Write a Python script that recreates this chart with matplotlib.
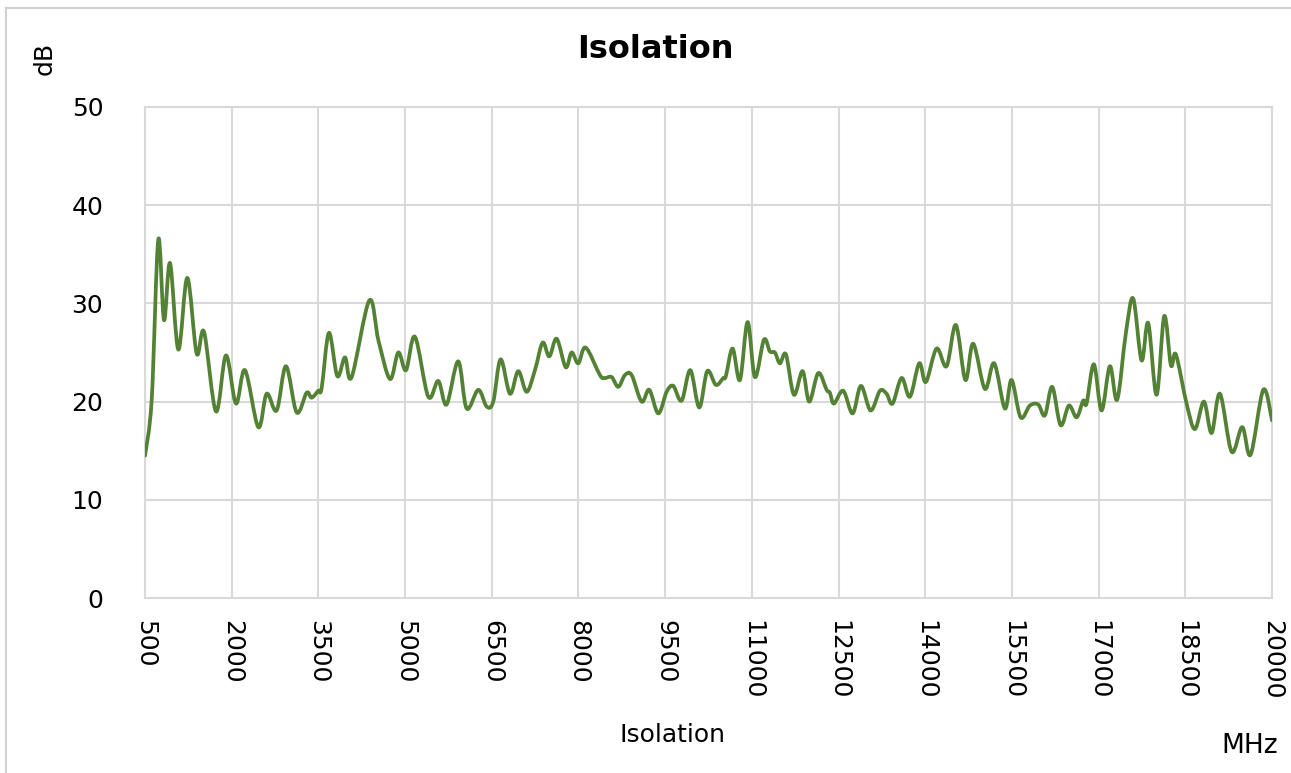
"""Isolation vs frequency, smoothed line like the Excel original."""

import matplotlib

matplotlib.use("Agg")
import matplotlib.pyplot as plt
import numpy as np
from matplotlib.patches import PathPatch
from matplotlib.path import Path

# Values (MHz, dB).
freq_mhz = [
    500, 616, 730, 829, 933, 1077, 1232, 1394, 1521, 1728, 1901, 2074, 2230,
    2460, 2605, 2778, 2939, 3124, 3297, 3384, 3498, 3557, 3683, 3827, 3960,
    4076, 4381, 4540, 4739, 4883, 5016, 5171, 5401, 5574, 5718, 5919, 6065,
    6266, 6411, 6526, 6653, 6815, 6958, 7104, 7247, 7380, 7495, 7623, 7779,
    7882, 7997, 8125, 8372, 8458, 8574, 8689, 8804, 8920, 9093, 9225, 9381,
    9526, 9640, 9785, 9935, 10090, 10228, 10378, 10505, 10551, 10667, 10794,
    10927, 11053, 11209, 11313, 11399, 11486, 11590, 11728, 11878, 11993,
    12149, 12294, 12351, 12420, 12581, 12744, 12887, 13055, 13216, 13331,
    13435, 13591, 13735, 13896, 14011, 14196, 14369, 14530, 14695, 14830,
    15032, 15193, 15378, 15494, 15650, 15811, 15955, 16071, 16197, 16342,
    16486, 16619, 16733, 16792, 16918, 17051, 17195, 17321, 17472, 17598,
    17743, 17858, 18003, 18135, 18251, 18337, 18522, 18666, 18822, 18955,
    19099, 19301, 19485, 19630, 19849, 20000,
]
isolation_db = [
    14.5, 20.2, 36.5, 28.3, 34.1, 25.3, 32.6, 24.9, 27.1, 19.0, 24.7, 19.8, 23.2,
    17.4, 20.8, 19.1, 23.6, 18.9, 20.9, 20.4, 21.1, 21.4, 27.0, 22.6, 24.5,
    22.5, 30.3, 26.2, 22.3, 25.0, 23.2, 26.6, 20.5, 22.1, 19.7, 24.1, 19.3,
    21.2, 19.5, 20.0, 24.3, 20.8, 23.1, 21.0, 23.2, 26.0, 24.6, 26.4, 23.5,
    25.0, 23.9, 25.5, 22.7, 22.4, 22.5, 21.5, 22.7, 22.7, 20.0, 21.2, 18.8,
    21.0, 21.6, 20.1, 23.2, 19.4, 23.1, 21.7, 22.4, 22.6, 25.4, 22.2,
    28.1, 22.5, 26.3, 25.1, 25.0, 23.9, 24.8, 20.7, 23.1, 20.0,
    22.9, 21.2, 20.9, 19.8, 21.1, 18.8, 21.6, 19.1, 21.1, 20.8,
    19.8, 22.4, 20.5, 23.9, 22.0, 25.4, 23.6, 27.8, 22.2, 25.9,
    21.3, 23.9, 19.3, 22.2, 18.4, 19.6, 19.7, 18.6, 21.5, 17.6,
    19.6, 18.4, 20.1, 19.8, 23.8, 19.1, 23.6, 20.2, 27.0, 30.5,
    24.2, 28.0, 20.7, 28.7, 23.7, 24.8, 19.8, 17.2, 20.0, 16.8,
    20.8, 14.9, 17.4, 14.6, 21.2, 18.1,
]
x_ticks = list(range(500, 20001, 1500))
y_ticks = [0, 10, 20, 30, 40, 50]

LINE = "#548235"
GRID = "#d9d9d9"
FONT = "DejaVu Sans"


def smooth_path(xs, ys):
    # Catmull-Rom through the points, as cubic Bezier segments.
    p = np.column_stack([xs, ys]).astype(float)
    pad = np.vstack([p[0], p, p[-1]])
    verts = [p[0]]
    codes = [Path.MOVETO]
    for i in range(1, len(pad) - 2):
        c1 = pad[i] + (pad[i + 1] - pad[i - 1]) / 6.0
        c2 = pad[i + 1] - (pad[i + 2] - pad[i]) / 6.0
        verts += [c1, c2, pad[i + 1]]
        codes += [Path.CURVE4] * 3
    return Path(verts, codes)


fig = plt.figure(figsize=(12.91, 7.73), dpi=100, facecolor="white")
ax = fig.add_axes([145 / 1291, 1 - 598 / 773, 1127 / 1291, 491 / 773])

ax.add_patch(PathPatch(smooth_path(freq_mhz, isolation_db), fill=False,
                       edgecolor=LINE, lw=2.7, capstyle="round",
                       joinstyle="round", zorder=3))

ax.set_xlim(500, 20000)
ax.set_ylim(0, 50)
ax.set_xticks(x_ticks)
ax.set_yticks(y_ticks)
ax.set_xticklabels([str(t) for t in x_ticks], rotation=-90, fontsize=18,
                   family=FONT, va="top", ha="center")
ax.set_yticklabels([str(t) for t in y_ticks], fontsize=18, family=FONT)
ax.tick_params(length=0)
ax.tick_params(axis="y", pad=30)
ax.tick_params(axis="x", pad=16)
ax.grid(True, color=GRID, lw=1.5)
ax.set_axisbelow(True)
for s in ax.spines.values():
    s.set_color(GRID)
    s.set_linewidth(1.5)

fig.text(655 / 1291, 1 - 50 / 773, "Isolation", ha="center", va="center",
         fontsize=23, fontweight="bold", family=FONT)
fig.text(45 / 1291, 1 - 58 / 773, "dB", rotation=90, ha="center",
         va="center", fontsize=18, family=FONT)
fig.text(672 / 1291, 1 - 735 / 773, "Isolation", ha="center", va="center",
         fontsize=18, family=FONT)
fig.text(1278 / 1291, 1 - 746 / 773, "MHz", ha="right", va="center",
         fontsize=19, family=FONT)

# Light frame round the whole chart (top and left edges show).
fig.add_artist(plt.Line2D([6 / 1291, 1], [1 - 8 / 773, 1 - 8 / 773],
                          transform=fig.transFigure, color="#d0d0d0", lw=1.5))
fig.add_artist(plt.Line2D([6 / 1291, 6 / 1291], [0, 1 - 8 / 773],
                          transform=fig.transFigure, color="#d0d0d0", lw=1.5))

fig.savefig("out.png", dpi=100)
